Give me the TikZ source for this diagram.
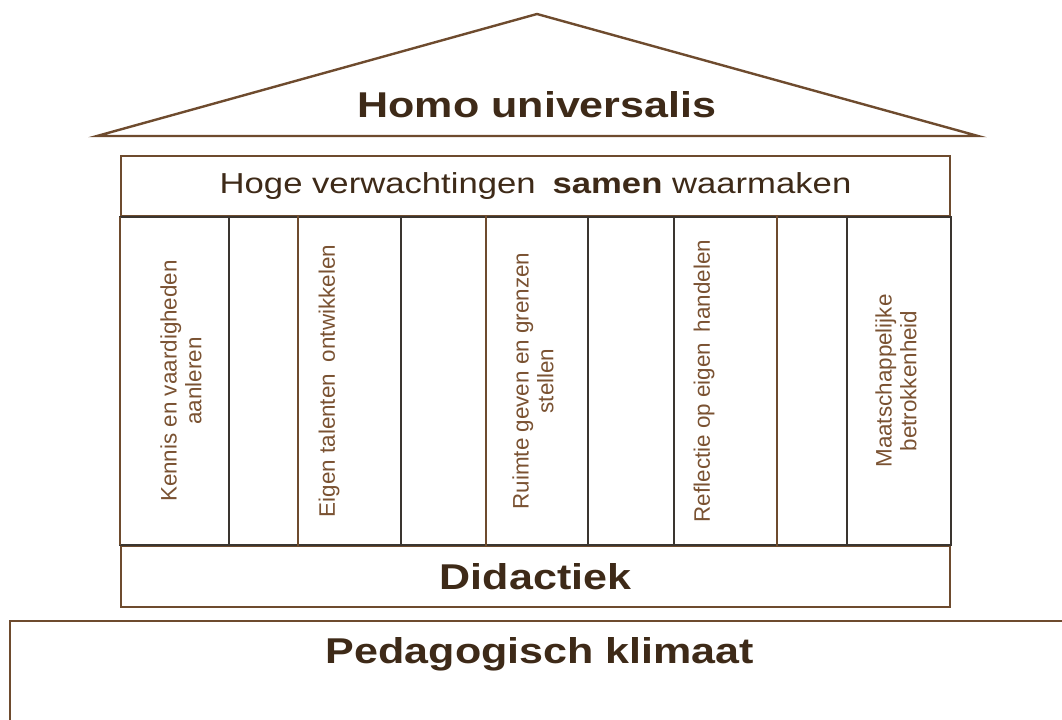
\documentclass[tikz,border=0pt]{standalone}
\usepackage{fontspec}
\setmainfont{Liberation Sans}
\newfontfamily\widesans[FakeStretch=1.2]{Liberation Sans}
\usetikzlibrary{positioning}
\definecolor{frame}{HTML}{6E4B2E}
\definecolor{darkline}{HTML}{3A3530}
\definecolor{titletext}{HTML}{3E2A18}
\definecolor{labeltext}{HTML}{7A5232}

\begin{document}
\begin{tikzpicture}[x=1bp, y=-1bp,
    title/.style={font=\widesans\fontsize{36}{40}\selectfont\bfseries,
                  text=titletext, inner sep=0pt},
    beam/.style={draw=frame, line width=2.4bp, minimum width=829bp,
                 minimum height=60bp, inner sep=0pt, text=titletext},
    pillar/.style={rotate=90, align=center, text=labeltext,
                   font=\fontsize{22.5}{25}\selectfont, inner sep=0pt},
    wall/.style={line width=2.4bp},
  ]
    \useasboundingbox (0,0) rectangle (1062,720);

    % Roof
    \draw[wall, draw=frame, line join=miter] (97,136) -- (537,14) -- (978,136) -- cycle;
    \node[title] (homo) at (537,105) {Homo universalis};

    % Beam on top and base of the pillars
    \node[beam, font=\widesans\fontsize{29}{32}\selectfont] (hoge) at (535.5,186)
      {Hoge verwachtingen\hspace{0.25em} \textbf{samen} waarmaken};
    \node[beam, minimum height=61bp, font=\widesans\fontsize{36}{40}\selectfont\bfseries]
      (didactiek) at (535.5,576.5) {Didactiek};

    % Pillars
    \draw[wall, draw=darkline] (hoge.south west) rectangle (didactiek.north east);
    \draw[wall, draw=frame] (hoge.south west) -- (didactiek.north west);
    \foreach \x/\c in {229/darkline, 298/frame, 401/darkline, 486/frame,
                       588/darkline, 674/darkline, 777/frame, 847/darkline}
      \draw[wall, draw=\c] (\x,216) -- (\x,546);

    \node[pillar] (kennis) at (181,381) {Kennis en vaardigheden\\aanleren};
    \node[pillar] (talent) at (329,381) {Eigen talenten\hspace{0.25em} ontwikkelen};
    \node[pillar] (ruimte) at (533,381) {Ruimte geven en grenzen\\stellen};
    \node[pillar] (reflectie) at (704,381) {Reflectie op eigen\hspace{0.2em} handelen};
    \node[pillar] (maatsch) at (896,381) {Maatschappelijke\\betrokkenheid};

    % Foundation
    \draw[wall, draw=frame] (10,722) -- (10,621) -- (1064,621);
    \node[title] (klimaat) at (540,654) {Pedagogisch klimaat};
\end{tikzpicture}
\end{document}
